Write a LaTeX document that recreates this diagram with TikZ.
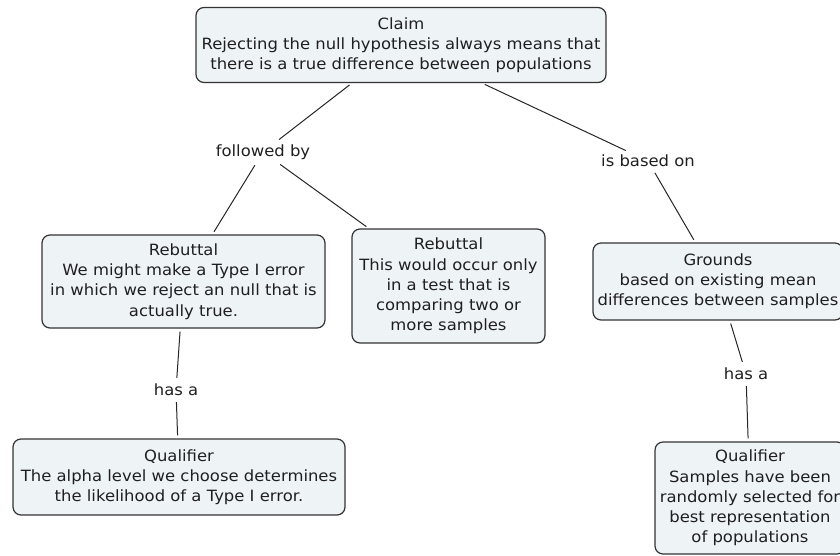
\documentclass[tikz,border=0pt]{standalone}
\usepackage{fontspec}
\setmainfont{DejaVu Sans}[FakeStretch=1.06]
\begin{document}
\begin{tikzpicture}[x=1pt,y=-1pt,
  box/.style={draw=black!80, line width=1.2pt, fill=boxfill, rounded corners=8pt,
    align=center, inner sep=0pt, text=black!88,
    font=\fontsize{15.5}{20.2}\selectfont},
  lbl/.style={inner sep=3pt, text=black!88, font=\fontsize{15.5}{17}\selectfont},
  link/.style={draw=black!85, line width=1pt, shorten <=3pt, shorten >=3pt}]
\definecolor{boxfill}{HTML}{EEF3F6}
\useasboundingbox (0,0) rectangle (840,555);
\clip (0,0) rectangle (840,555);

% concept boxes
\node[box, minimum width=410, minimum height=75] (claim) at (401,45)
  {Claim\\Rejecting the null hypothesis always means that\\there is a true difference between populations};
\node[box, minimum width=283, minimum height=93] (reb1) at (183.5,281.5)
  {Rebuttal\\We might make a Type I error\\in which we reject an null that is\\actually true.};
\node[box, minimum width=193, minimum height=114] (reb2) at (448.5,286)
  {Rebuttal\\This would occur only\\in a test that is\\comparing two or\\more samples};
\node[box, minimum width=250, minimum height=77] (grounds) at (718,281.5)
  {Grounds\\based on existing mean\\differences between samples};
\node[box, minimum width=190, minimum height=112] (qual2) at (750,498)
  {Qualifier\\Samples have been\\randomly selected for\\best representation\\of populations};
\node[box, minimum width=332, minimum height=76] (qual1) at (179,477)
  {Qualifier\\The alpha level we choose determines\\the likelihood of a Type I error.};

% linking phrases
\node[lbl] (fb)  at (263,152) {followed by};
\node[lbl] (ibo) at (648,161) {is based on};
\node[lbl] (has1) at (176,390) {has a};
\node[lbl] (has2) at (746,374) {has a};

% connectors
\draw[link] (claim) -- (fb);
\draw[link] (fb) -- (reb1);
\draw[link] (fb) -- (reb2);
\draw[link] (claim) -- (ibo);
\draw[link] (ibo) -- (grounds);
\draw[link] (reb1) -- (has1);
\draw[link] (has1) -- (qual1);
\draw[link] (grounds) -- (has2);
\draw[link] (has2) -- (qual2);
\end{tikzpicture}
\end{document}
